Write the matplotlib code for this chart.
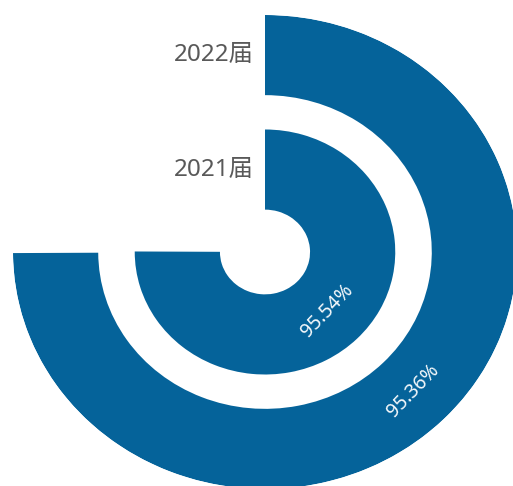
import numpy as np
import matplotlib
matplotlib.use("Agg")
import matplotlib.pyplot as plt

plt.rcParams['font.family'] = ['Noto Sans', 'Noto Sans CJK SC', 'DejaVu Sans']

categories = ['2021届', '2022届']
values = [95.54, 95.36]
value_labels = ['95.54%', '95.36%']

ANGLE_MAX = 127.27   # angle-axis maximum (full circle)
BLUE = '#05639a'

W, H = 513, 486
fig = plt.figure(figsize=(W / 100, H / 100), dpi=100)

cx, cy = 265, 486 - 252     # centre in pixels (from bottom)
rx, ry = 252, 237          # outer radius in pixels (horizontal / vertical)
ax = fig.add_axes([(cx - rx) / W, (cy - ry) / H, 2 * rx / W, 2 * ry / H],
                  projection='polar')
ax.set_aspect('auto')
ax.set_theta_zero_location('N')
ax.set_theta_direction(-1)

idx = np.arange(len(categories))
thetas = np.array(values) / ANGLE_MAX * 2 * np.pi
ax.barh(idx, thetas, left=0, height=0.70, color=BLUE, edgecolor='none')
ax.set_rlim(-0.72, 1.35)
ax.set_thetalim(0, 2 * np.pi)

ax.grid(False)
ax.set_xticks([])
ax.set_yticks([])
ax.spines['polar'].set_visible(False)
ax.patch.set_alpha(0)

for i, cat in enumerate(categories):
    ax.annotate(cat, xy=(0, i), xytext=(-11, 0), textcoords='offset pixels',
                ha='right', va='center', fontsize=17.5, color='#595959')

for i, (t, lab) in enumerate(zip(thetas, value_labels)):
    mid = t / 2
    ax.text(mid, i, lab, ha='center', va='center', rotation=46,
            rotation_mode='anchor', fontsize=14, color='#f4f8fb')

fig.savefig('out.png', dpi=100)
